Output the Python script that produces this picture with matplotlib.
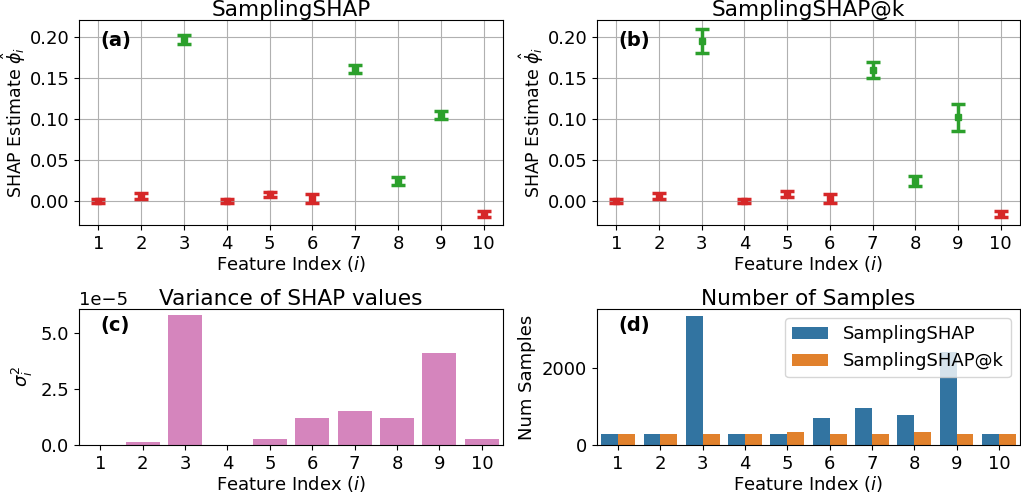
import numpy as np
import matplotlib
matplotlib.use('Agg')
from matplotlib import pyplot as plt

plt.rcParams['font.size'] = 13

features = np.arange(1, 11)
tick_labels = [str(i) for i in features]

# SHAP estimates and error bars
shap_plain = [0.0, 0.006, 0.197, 0.0, 0.008, 0.003, 0.161, 0.0244, 0.105, -0.0155]
err_plain = [0.002, 0.0035, 0.005, 0.002, 0.0035, 0.005, 0.0047, 0.005, 0.0047, 0.0037]
shap_at_k = [0.0, 0.006, 0.1955, 0.0, 0.008, 0.003, 0.160, 0.0244, 0.102, -0.016]
err_at_k = [0.002, 0.0033, 0.0146, 0.002, 0.0037, 0.006, 0.010, 0.0057, 0.0165, 0.0039]
important = [False, False, True, False, False, False, True, True, True, False]

# variance (x 1e-5)
variance = [0.0, 0.13, 5.76, 0.0, 0.27, 1.2, 1.52, 1.2, 4.11, 0.27]

# number of samples
samples_plain = [290, 290, 3350, 290, 290, 700, 960, 780, 2410, 290]
samples_at_k = [290, 290, 290, 290, 340, 290, 290, 340, 290, 290]

fig = plt.figure(figsize=(10.21, 4.95), dpi=100)
ax_a = fig.add_axes([0.0774, 0.5455, 0.4153, 0.4141])
ax_b = fig.add_axes([0.5847, 0.5455, 0.4143, 0.4141])
ax_c = fig.add_axes([0.0774, 0.1010, 0.4153, 0.2748])
ax_d = fig.add_axes([0.5847, 0.1010, 0.4143, 0.2748])


def errplot(ax, vals, errs, title, tag):
    for x, v, e, imp in zip(features, vals, errs, important):
        col = 'tab:green' if imp else 'tab:red'
        ax.errorbar(x, v, yerr=e, fmt='s', color=col, markersize=5,
                    capsize=5, elinewidth=2.5, capthick=2.5)
    ax.set_xticks(features)
    ax.set_xticklabels(tick_labels)
    ax.set_ylim(-0.0293, 0.2207)
    ax.set_xlim(0.55, 10.45)
    ax.grid(True)
    ax.set_axisbelow(True)
    ax.set_title(title, pad=3)
    ax.set_xlabel('Feature Index ($i$)', labelpad=1)
    ax.set_ylabel(r'SHAP Estimate $\hat{\phi}_i$', fontsize=12.5, labelpad=1)
    ax.text(0.05, 0.9, tag, transform=ax.transAxes, fontweight='bold',
            va='center', fontsize=14)


errplot(ax_a, shap_plain, err_plain, 'SamplingSHAP', '(a)')
errplot(ax_b, shap_at_k, err_at_k, 'SamplingSHAP@k', '(b)')

# (c) variance
pos = np.arange(len(features))
ax_c.bar(pos, np.array(variance) * 1e-5, width=0.8, color='#d585bd')
ax_c.set_xlim(-0.5, 9.5)
ax_c.set_xticks(pos)
ax_c.set_xticklabels(tick_labels)
ax_c.set_title('Variance of SHAP values', pad=3)
ax_c.set_xlabel('Feature Index ($i$)', labelpad=1)
ax_c.set_ylabel(r'$\sigma_i^2$')
ax_c.set_yticks([0, 2.5e-5, 5e-5])
ax_c.text(0.05, 0.875, '(c)', transform=ax_c.transAxes, fontweight='bold',
          va='center', fontsize=14)

# (d) number of samples
w = 0.4
ax_d.bar(pos - w / 2, samples_plain, width=w, color='#3274a1', label='SamplingSHAP')
ax_d.bar(pos + w / 2, samples_at_k, width=w, color='#e1812c', label='SamplingSHAP@k')
ax_d.set_xlim(-0.5, 9.5)
ax_d.set_ylim(0, 3530)
ax_d.set_xticks(pos)
ax_d.set_xticklabels(tick_labels)
ax_d.set_yticks([0, 2000])
ax_d.set_title('Number of Samples', pad=3)
ax_d.set_xlabel('Feature Index ($i$)', labelpad=1)
ax_d.set_ylabel('Num Samples')
ax_d.legend(loc='upper right')
ax_d.text(0.05, 0.875, '(d)', transform=ax_d.transAxes, fontweight='bold',
          va='center', fontsize=14)

fig.savefig('out.png', dpi=100)
